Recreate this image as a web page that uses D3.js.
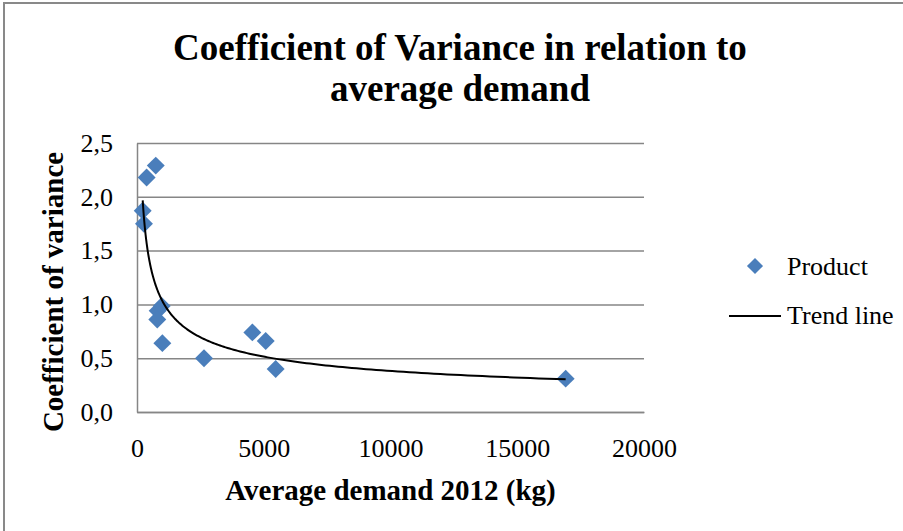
<!DOCTYPE html>
<html>
<head>
<meta charset="utf-8">
<script src="https://cdn.jsdelivr.net/npm/d3@7"></script>
<style>
  body { margin: 0; background: #fff; }
  svg { display: block; font-family: "Liberation Serif", "Times New Roman", serif; }
</style>
</head>
<body>
<figure id="chart" style="margin:0"></figure>
<script>
// values
const demand = [225, 275, 380, 740, 975, 815, 800, 1000, 2643, 4550, 5077, 5470, 16910];
const cv = [1.87, 1.75, 2.18, 2.29, 0.985, 0.94, 0.86, 0.64, 0.50, 0.74, 0.66, 0.40, 0.31];
const xTicks = [0, 5000, 10000, 15000, 20000];
const yTicks = [0, 0.5, 1.0, 1.5, 2.0, 2.5];
const titleLines = ['Coefficient of Variance in relation to', 'average demand'];
const legendLabels = ['Product', 'Trend line'];

const width = 903;
const height = 531;
const marginLeft = 137;
const marginRight = 259;
const marginTop = 143;
const marginBottom = 119;
const blue = '#4a7ebb';
const grey = '#868686';

const locale = d3.formatLocale({ decimal: ',', thousands: '', grouping: [3], currency: ['', ''] });
const fmtY = locale.format('.1f');

const svg = d3.select('figure#chart')
  .append('svg')
  .attr('width', width)
  .attr('height', height);

// outer chart frame (runs off the right and bottom of the picture)
svg.append('rect')
  .attr('x', 4).attr('y', 3)
  .attr('width', width + 10).attr('height', height + 10)
  .attr('fill', '#fff')
  .attr('stroke', '#898989')
  .attr('stroke-width', 2);

const x = d3.scaleLinear()
  .domain([0, 20000])
  .range([marginLeft, width - marginRight]);

const y = d3.scaleLinear()
  .domain([0, 2.5])
  .range([height - marginBottom, marginTop]);

// y axis with gridlines
svg.append('g')
  .attr('transform', `translate(${marginLeft},0)`)
  .call(d3.axisLeft(y).tickValues(yTicks).tickFormat(fmtY)
    .tickSizeInner(-(width - marginLeft - marginRight)).tickSizeOuter(0).tickPadding(24))
  .call(g => g.select('.domain').attr('stroke', grey).attr('stroke-width', 1.5))
  .call(g => g.selectAll('.tick line').attr('stroke', grey).attr('stroke-width', 1.5))
  .call(g => g.selectAll('.tick text').attr('font-size', 26).attr('fill', '#000')
    .attr('font-family', '"Liberation Serif", "Times New Roman", serif'));

// x axis
svg.append('g')
  .attr('transform', `translate(0,${height - marginBottom})`)
  .call(d3.axisBottom(x).tickValues(xTicks).tickFormat(d3.format('d'))
    .tickSizeInner(0).tickSizeOuter(0).tickPadding(27))
  .call(g => g.select('.domain').attr('stroke', grey).attr('stroke-width', 1.5))
  .call(g => g.selectAll('.tick text').attr('font-size', 26).attr('fill', '#000')
    .attr('font-family', '"Liberation Serif", "Times New Roman", serif'));

// power trend line y = a * x^b, least squares on logs (as the spreadsheet does)
const lx = demand.map(Math.log);
const ly = cv.map(Math.log);
const mx = d3.mean(lx);
const my = d3.mean(ly);
const b = d3.sum(lx, (v, i) => (v - mx) * (ly[i] - my)) / d3.sum(lx, v => (v - mx) ** 2);
const a = Math.exp(my - b * mx);
const [xMin, xMax] = d3.extent(demand);
const trend = d3.range(0, 201).map(i => {
  const xv = xMin * Math.pow(xMax / xMin, i / 200);
  return [xv, a * Math.pow(xv, b)];
});

const diamond = d3.symbol().type(d3.symbolDiamond2).size(205);

svg.append('g')
  .selectAll('path')
  .data(demand)
  .join('path')
  .attr('transform', (d, i) => `translate(${x(d)},${y(cv[i])})`)
  .attr('d', diamond)
  .attr('fill', blue);

svg.append('path')
  .datum(trend)
  .attr('fill', 'none')
  .attr('stroke', '#000')
  .attr('stroke-width', 2)
  .attr('d', d3.line().x(d => x(d[0])).y(d => y(d[1])));

// title
svg.append('text')
  .attr('x', 460)
  .attr('text-anchor', 'middle')
  .attr('font-size', 37)
  .attr('font-weight', 'bold')
  .selectAll('tspan')
  .data(titleLines)
  .join('tspan')
  .attr('x', 460)
  .attr('y', (d, i) => 60 + i * 41)
  .text(d => d);

// axis titles
svg.append('text')
  .attr('x', (marginLeft + width - marginRight) / 2)
  .attr('y', 500)
  .attr('text-anchor', 'middle')
  .attr('font-size', 29)
  .attr('font-weight', 'bold')
  .text('Average demand 2012 (kg)');

svg.append('text')
  .attr('transform', 'translate(63,292) rotate(-90)')
  .attr('text-anchor', 'middle')
  .attr('font-size', 29)
  .attr('font-weight', 'bold')
  .text('Coefficient of variance');

// legend
const legend = svg.append('g');
legend.append('path')
  .attr('transform', 'translate(755,266)')
  .attr('d', d3.symbol().type(d3.symbolDiamond2).size(165))
  .attr('fill', blue);
legend.append('line')
  .attr('x1', 729).attr('x2', 781)
  .attr('y1', 316).attr('y2', 316)
  .attr('stroke', '#000').attr('stroke-width', 2);
legend.selectAll('text')
  .data(legendLabels)
  .join('text')
  .attr('x', 787)
  .attr('y', (d, i) => 275 + i * 49)
  .attr('font-size', 26)
  .text(d => d);
</script>
</body>
</html>
